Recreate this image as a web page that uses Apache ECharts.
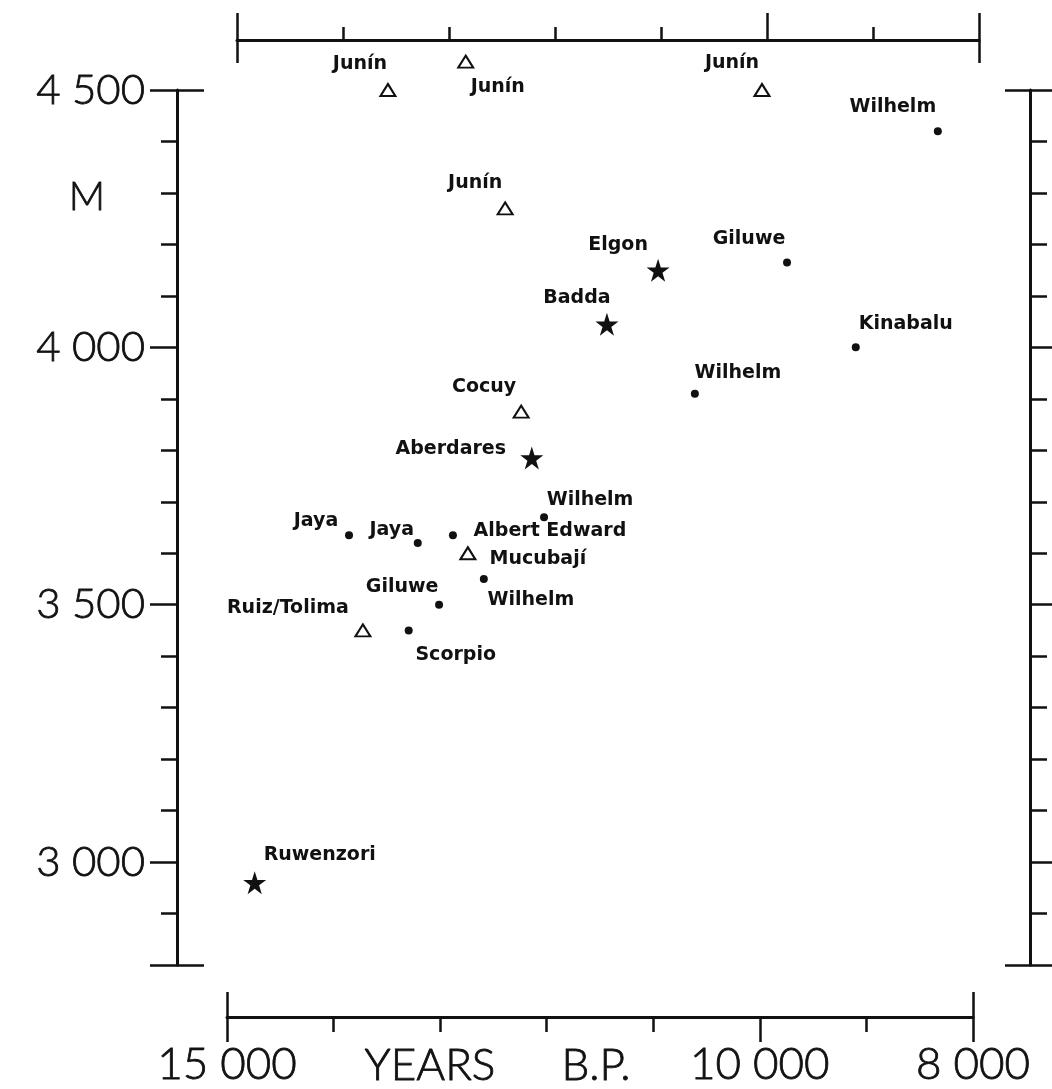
<!DOCTYPE html>
<html><head><meta charset="utf-8">
<script src="https://cdn.jsdelivr.net/npm/echarts@6/dist/echarts.min.js"></script>
<style>html,body{margin:0;padding:0;background:#fff}#c{width:1052px;height:1089px}</style>
</head><body><div id="c"></div>
<script>
// ---- data ----
const siteNames = ['Junín','Junín','Junín','Junín','Cocuy','Mucubají','Ruiz/Tolima',
  'Wilhelm','Giluwe','Kinabalu','Wilhelm','Wilhelm','Albert Edward','Jaya','Jaya','Wilhelm','Giluwe','Scorpio',
  'Elgon','Badda','Aberdares','Ruwenzori'];
const siteYears = [13490,12760,12390,9980,12240,12740,13725,
  8330,9745,9100,10610,12025,12880,13855,13210,12590,13010,13295,
  10955,11435,12140,14740];
const siteElev = [4500,4555,4270,4500,3875,3600,3450,
  4420,4165,4000,3910,3670,3635,3635,3620,3550,3500,3450,
  4150,4045,3785,2960];
const siteType = ['tri','tri','tri','tri','tri','tri','tri',
  'dot','dot','dot','dot','dot','dot','dot','dot','dot','dot','dot',
  'star','star','star','star'];
const yTickValues = [3000,3500,4000,4500];
const xTickValues = [15000,10000,8000];

// ---- layout only: label offsets (px) relative to each marker ----
const labelOffsets = [[-28,-26],[32,25],[-30,-25],[-30,-27],[-37,-25],[70,6],[-75,-22],
  [-45,-24],[-38,-23],[50,-23],[43,-21],[46,-17],[97,-4],[-33,-14],[-26,-13],[47,21],[-37,-18],[47,25],
  [-40,-25],[-30,-26],[-81,-9],[65,-28]];

const INK = '#111';
const STAR = 'path://M50,0 L61.2,34.5 L97.6,34.5 L68.2,55.9 L79.4,90.5 L50,69.1 L20.6,90.5 L31.8,55.9 L2.4,34.5 L38.8,34.5 Z';
const fmt = v => String(v).replace(/(\d)(\d{3})$/, '$1 $2');
const tickFont = {fontFamily:'Lato', fontWeight:300, color:INK, textBorderColor:INK, textBorderWidth:0.8};

function items(type){
  const out=[];
  siteNames.forEach((n,i)=>{
    if(siteType[i]!==type) return;
    out.push({name:n, value:[siteYears[i], siteElev[i]],
      label:{offset:labelOffsets[i]}});
  });
  return out;
}
const lbl = {show:true, position:'inside', formatter:'{b}', fontFamily:'DejaVu Sans',
  fontWeight:'bold', fontSize:19, color:INK, opacity:1};

const axLine = {show:true, onZero:false, lineStyle:{color:INK, width:3}};
const noLine = {show:false, onZero:false};
const tk = (len, extra) => Object.assign({show:true, length:len, lineStyle:{color:INK, width:2.5}}, extra||{});

function xa(grid, pos, off, line, tick, label){
  return {type:'value', gridIndex:grid, position:pos, offset:off, min:8000, max:15000, interval:1000,
    inverse:true, axisLine: line?axLine:noLine, axisTick:tick, axisLabel:label||{show:false},
    splitLine:{show:false}};
}
function ya(pos, off, line, tick, label){
  return {type:'value', gridIndex:0, position:pos, offset:off, min:2800, max:4500, interval:100,
    axisLine: line?axLine:noLine, axisTick:tick, axisLabel:label||{show:false}, splitLine:{show:false}};
}
const titleStyle = (t, x, y, size) => ({type:'text', x:x, y:y, style:{text:t, fontSize:size, fontFamily:'Lato',
  fontWeight:300, fill:INK, stroke:INK, lineWidth:0.8, align:'center', verticalAlign:'middle'}});

const chart = echarts.init(document.getElementById('c'), null, {renderer:'canvas'});
chart.setOption({
  backgroundColor:'#fff',
  animation:false,
  grid:[{left:227, right:79, top:90, bottom:124},
        {left:237, right:73, top:40, height:800}],
  xAxis:[
    xa(0,'bottom',52,true,tk(15)),
    xa(0,'bottom',52,false,tk(25,{customValues:[15000,10000,8000]}),
       Object.assign({show:true, customValues:xTickValues, formatter:fmt, fontSize:44, margin:26}, tickFont)),
    xa(0,'bottom',52,false,tk(25,{inside:true, customValues:[15000,8000]})),
    xa(1,'top',0,true,tk(13)),
    xa(1,'top',0,false,tk(27,{customValues:[15000,10000,8000]})),
    xa(1,'top',0,false,tk(23,{inside:true, customValues:[15000,8000]}))
  ],
  yAxis:[
    ya('left',50,true,tk(16)),
    ya('left',50,false,tk(27,{customValues:[2800,3000,3500,4000,4500]}),
       Object.assign({show:true, customValues:yTickValues, formatter:fmt, fontSize:42, margin:32}, tickFont)),
    ya('left',50,false,tk(27,{inside:true, customValues:[2800,4500]})),
    ya('right',57,true,tk(17)),
    ya('right',57,false,tk(24,{customValues:[2800,3000,3500,4000,4500]})),
    ya('right',57,false,tk(25,{inside:true, customValues:[2800,4500]})),
    {type:'value', gridIndex:1, show:false, min:0, max:1}
  ],
  graphic:[
    titleStyle('M', 87, 197, 40),
    titleStyle('YEARS', 430, 1066, 44),
    titleStyle('B.P.', 596, 1066, 44)
  ],
  series:[
    {type:'scatter', name:'tri', xAxisIndex:0, yAxisIndex:0, clip:false, symbol:'triangle', symbolSize:[15,12],
      itemStyle:{color:'#fff', borderColor:INK, borderWidth:2, opacity:1}, label:lbl, data:items('tri')},
    {type:'scatter', name:'dot', xAxisIndex:0, yAxisIndex:0, clip:false, symbol:'circle', symbolSize:8,
      itemStyle:{color:INK, opacity:1}, label:lbl, data:items('dot')},
    {type:'scatter', name:'star', xAxisIndex:0, yAxisIndex:0, clip:false, symbol:STAR, symbolSize:23,
      itemStyle:{color:INK, opacity:1}, label:lbl, data:items('star')}
  ]
});
</script>
</body></html>
